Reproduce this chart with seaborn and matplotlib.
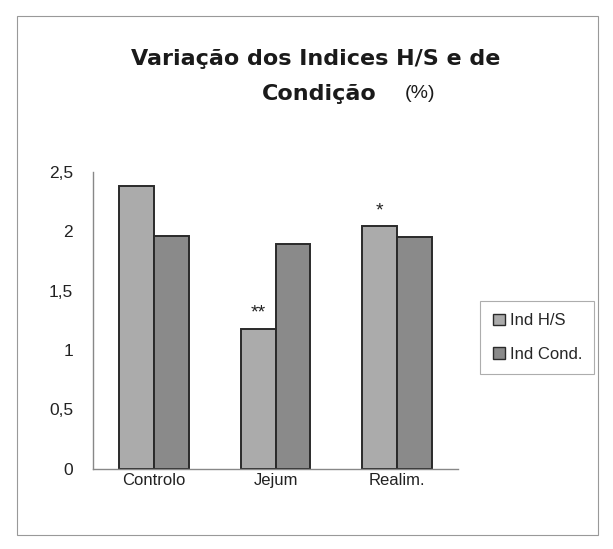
import pandas as pd
import matplotlib.pyplot as plt
import matplotlib.patches as mpatches
import seaborn as sns

# data
categories = ["Controlo", "Jejum", "Realim."]
ind_hs = [2.38, 1.18, 2.04]
ind_cond = [1.96, 1.89, 1.95]
hs_marks = ["", "**", "*"]
series = ["Ind H/S", "Ind Cond."]

df = pd.DataFrame({
    "grupo": categories * 2,
    "serie": [series[0]] * 3 + [series[1]] * 3,
    "valor": ind_hs + ind_cond,
})

sns.set_theme(style="white")
plt.rcParams["font.family"] = ["Liberation Sans", "DejaVu Sans"]

COLORS = {"Ind H/S": "#ababab", "Ind Cond.": "#8a8a8a"}

fig = plt.figure(figsize=(6.13, 5.49), dpi=100)
ax = fig.add_axes([0.152, 0.146, 0.595, 0.541])

sns.barplot(data=df, x="grupo", y="valor", hue="serie", palette=COLORS,
            width=0.57, edgecolor="#2a2a2a", linewidth=1.4, ax=ax,
            legend=False)

# significance marks above H/S bars
hs_bars = ax.containers[0]
for bar, mark in zip(hs_bars, hs_marks):
    if mark:
        ax.text(bar.get_x() + bar.get_width() / 2, bar.get_height() + 0.06,
                mark, ha="center", va="bottom", fontsize=14, color="#222222")

ax.set_ylim(0, 2.5)
ax.set_xlim(-0.5, 2.5)
yt = [0, 0.5, 1, 1.5, 2, 2.5]
ax.set_yticks(yt)
ax.set_yticklabels([f"{v:g}".replace(".", ",") for v in yt], fontsize=12.5,
                   color="#222222")
ax.set_xticks(range(len(categories)))
ax.set_xticklabels(categories, fontsize=12, color="#222222")
ax.tick_params(axis="x", length=0, pad=3)
ax.set_xticks([0.5, 1.5, 2.5], minor=True)
ax.tick_params(axis="x", which="minor", length=5, color="#777777", direction="inout")
ax.tick_params(axis="y", length=5, color="#777777", direction="inout", pad=12)
ax.set_xlabel("")
ax.set_ylabel("")
for side in ["top", "right"]:
    ax.spines[side].set_visible(False)
for side in ["left", "bottom"]:
    ax.spines[side].set_color("#888888")
    ax.spines[side].set_linewidth(1.0)

fig.text(0.515, 0.892, "Variação dos Indices H/S e de", ha="center", va="center",
         fontsize=16, fontweight="bold", color="#1a1a1a", family="DejaVu Sans")
fig.text(0.521, 0.829, "Condição", ha="center", va="center",
         fontsize=16, fontweight="bold", color="#1a1a1a", family="DejaVu Sans")
fig.text(0.685, 0.829, "(%)", ha="center", va="center",
         fontsize=14, color="#1a1a1a")

handles = [mpatches.Patch(facecolor=COLORS[s], edgecolor="#2a2a2a", label=s)
           for s in series]
leg = fig.legend(handles=handles, loc="center left", bbox_to_anchor=(0.77, 0.385),
                 fontsize=12, frameon=True, fancybox=False, handlelength=0.7,
                 handleheight=0.7, handletextpad=0.3, labelspacing=1.1,
                 borderpad=0.75, edgecolor="#999999")
leg.get_frame().set_linewidth(0.8)

# border round the whole chart
fig.patches.append(mpatches.Rectangle((0.028, 0.025), 0.947, 0.945,
                                      transform=fig.transFigure, fill=False,
                                      edgecolor="#999999", linewidth=0.8))

fig.savefig("out.png", dpi=100)
